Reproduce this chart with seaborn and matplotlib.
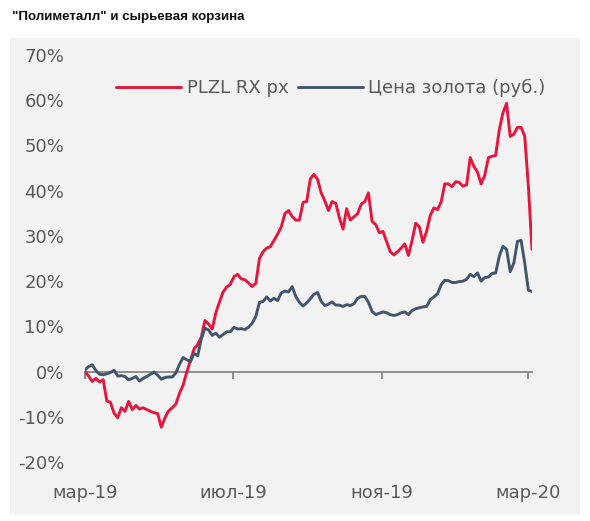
import matplotlib
matplotlib.use('Agg')
import matplotlib.pyplot as plt
import matplotlib.dates as mdates
import matplotlib.ticker as mticker
from matplotlib.patches import Rectangle
import numpy as np
import pandas as pd
import seaborn as sns

# values, one point every 3 days from 1 Mar 2019
start_date = '2019-03-01'
step_days = 3

plzl = [0.0, -1.0, -2.2, -1.5, -2.3, -1.8, -6.5, -6.8, -9.2, -10.2,
        -8.0, -8.8, -6.6, -8.4, -7.5, -8.3, -8.0, -8.4, -8.8, -9.1,
        -9.3, -12.3, -10.2, -8.7, -8.0, -7.2, -4.8, -3.0, -0.1, 2.4,
        5.0, 6.0, 7.6, 11.3, 10.5, 9.4, 13.0, 15.4, 17.6, 18.7,
        19.3, 21.0, 21.5, 20.5, 20.3, 19.6, 18.8, 19.5, 25.0, 26.5,
        27.3, 27.6, 29.0, 30.4, 32.0, 34.9, 35.6, 34.3, 33.5, 33.5,
        37.4, 37.6, 42.6, 43.6, 42.5, 39.5, 37.7, 35.6, 37.6, 37.2,
        34.0, 31.5, 36.0, 33.5, 34.2, 34.9, 37.0, 37.6, 39.5, 33.2,
        32.5, 30.7, 31.0, 28.7, 26.5, 25.8, 26.5, 27.3, 28.2, 25.7,
        29.0, 32.8, 32.0, 28.6, 31.0, 34.5, 36.2, 35.8, 37.5, 41.5,
        41.5, 40.9, 42.0, 41.8, 41.0, 41.3, 47.3, 45.4, 44.1, 41.5,
        43.4, 47.3, 47.6, 47.8, 53.5, 57.2, 59.3, 52.0, 52.5, 54.0,
        54.0, 52.0, 41.0, 27.0]

gold = [0.4, 1.1, 1.5, 0.2, -0.6, -0.7, -0.5, -0.2, 0.3, -1.0,
        -0.9, -1.1, -1.8, -1.5, -1.1, -2.1, -1.5, -1.1, -0.6, -0.1,
        -0.8, -1.7, -1.3, -1.2, -1.2, -0.3, 1.6, 3.1, 2.6, 2.2,
        4.0, 3.5, 7.2, 9.6, 9.2, 8.0, 8.5, 7.6, 8.2, 8.8,
        8.8, 9.8, 9.4, 9.5, 9.3, 9.8, 10.7, 12.2, 15.3, 15.5,
        16.5, 15.6, 16.2, 15.7, 17.4, 17.8, 17.6, 18.8, 16.6, 15.3,
        14.5, 15.2, 16.1, 17.1, 17.5, 15.5, 14.6, 14.9, 15.4, 14.7,
        14.7, 14.4, 14.8, 14.6, 15.0, 16.2, 16.6, 16.6, 15.3, 13.3,
        12.6, 12.9, 13.2, 13.0, 12.6, 12.4, 12.6, 13.0, 13.2, 12.6,
        13.5, 13.9, 14.1, 14.3, 14.4, 15.9, 16.5, 17.2, 19.2, 20.2,
        20.1, 19.7, 19.7, 19.9, 20.0, 20.4, 21.5, 21.0, 21.8, 20.0,
        20.8, 20.9, 21.7, 21.8, 25.5, 27.7, 27.0, 22.1, 24.0, 28.8,
        29.0, 24.0, 18.0, 17.7]

series_names = ['PLZL RX px', 'Цена золота (руб.)']
series_colors = ['#e3173e', '#44546a']
tick_dates = ['2019-03-01', '2019-07-01', '2019-11-01', '2020-03-01']
tick_labels = ['мар-19', 'июл-19', 'ноя-19', 'мар-20']
y_ticks = list(range(-20, 71, 10))

n = len(plzl)
assert len(gold) == n
dates = pd.date_range(start_date, periods=n, freq=f'{step_days}D')
df = pd.DataFrame({
    'date': np.concatenate([dates.values, dates.values]),
    'value': plzl + gold,
    'series': [series_names[0]] * n + [series_names[1]] * n,
})

sns.set_style('white')
plt.rcParams['font.family'] = ['DejaVu Sans']

text_gray = '#595959'
fig = plt.figure(figsize=(5.9, 5.21), dpi=100)
fig.patches.append(Rectangle((0.017, 0.0115), 0.966, 0.9155, transform=fig.transFigure,
                             facecolor='#f2f2f2', edgecolor='none', zorder=-10))
fig.text(0.02, 0.967, '"Полиметалл" и сырьевая корзина', fontsize=9.6, fontweight='bold',
         family=['Liberation Sans', 'DejaVu Sans'], ha='left', va='center', color='#111111')

ax = fig.add_axes([0.1441, 0.1132, 0.7576, 0.7812])
ax.set_facecolor('none')
ax.set_zorder(5)

sns.lineplot(data=df, x='date', y='value', hue='series', hue_order=series_names,
             palette=series_colors, linewidth=2.1, ax=ax)

ax.set_xlim(dates[0], dates[-1])
ax.set_ylim(-20, 70)
ax.set_xlabel('')
ax.set_ylabel('')
ax.set_yticks(y_ticks)
ax.yaxis.set_major_formatter(mticker.FuncFormatter(lambda v, p: f'{int(v)}%'))
ax.tick_params(axis='y', left=False, length=0, pad=15, labelsize=13, labelcolor=text_gray)

tick_nums = mdates.date2num(pd.to_datetime(tick_dates))
for side in ['left', 'right', 'top']:
    ax.spines[side].set_visible(False)
ax.spines['bottom'].set_position(('data', 0))
ax.spines['bottom'].set_color('#868686')
ax.spines['bottom'].set_linewidth(1.3)
ax.spines['bottom'].set_zorder(1)
ax.set_xticks(tick_nums)
ax.tick_params(axis='x', bottom=True, direction='out', length=5, width=1.3, color='#868686',
               labelbottom=False)

sec = ax.secondary_xaxis('bottom')
sec.set_xticks(tick_nums, labels=tick_labels)
sec.tick_params(length=0, pad=16, labelsize=13, labelcolor=text_gray)
sec.spines['bottom'].set_visible(False)

handles, labels = ax.get_legend_handles_labels()
ax.legend(handles, labels, loc='center', bbox_to_anchor=(0.55, 0.919), ncol=2,
          frameon=False, handlelength=3.6, handletextpad=0.3, columnspacing=0.5,
          fontsize=13, labelcolor=text_gray)

fig.savefig('out.png', dpi=100)
